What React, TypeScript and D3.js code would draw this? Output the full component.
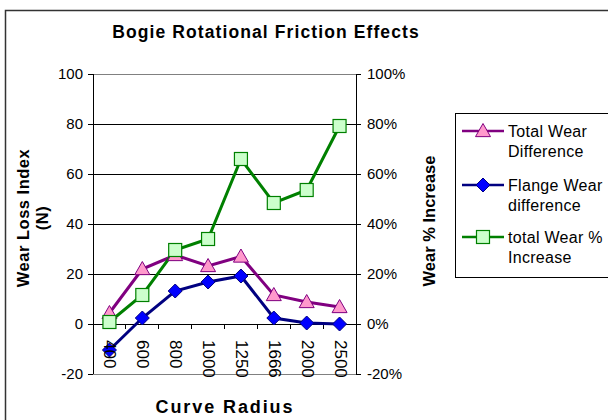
import React from "react";
import * as d3 from "d3";

const categories = ["400", "600", "800", "1000", "1250", "1666", "2000", "2500"];
const totalWearDiff = [4.4, 22, 27.6, 23.2, 27, 11.6, 8.8, 6.8];
const flangeWearDiff = [-10.4, 2.4, 13.2, 16.8, 19.2, 2.4, 0.4, 0];
const totalWearPct = [0.8, 11.6, 29.6, 34, 66, 48.4, 53.6, 79.2];
const leftTicks = [-20, 0, 20, 40, 60, 80, 100];
const rightTicks = [-20, 0, 20, 40, 60, 80, 100];

const FONT = "'Liberation Sans', Arial, sans-serif";

export default function App() {
  const W = 608, H = 420;
  const L = 93, R = 356, T = 74, B = 374;
  const x = d3.scaleBand<string>().domain(categories).range([L, R]);
  const y = d3.scaleLinear().domain([-20, 100]).range([B, T]);
  const yr = d3.scaleLinear().domain([-20, 100]).range([B, T]);
  const cx = (c: string) => (x(c) as number) + x.bandwidth() / 2;
  const line = d3.line<[number, number]>().x((d) => d[0]).y((d) => d[1]);

  const ptsTotal = categories.map((c, i) => [cx(c), y(totalWearDiff[i])] as [number, number]);
  const ptsFlange = categories.map((c, i) => [cx(c), y(flangeWearDiff[i])] as [number, number]);
  const ptsPct = categories.map((c, i) => [cx(c), yr(totalWearPct[i])] as [number, number]);

  const tri = (px: number, py: number, k: number) => {
    const s = 7.5;
    return <path key={k} d={`M${px},${py - s} L${px + s},${py + s * 0.75} L${px - s},${py + s * 0.75} Z`} fill="#FF99CC" stroke="#800080" strokeWidth={1} />;
  };
  const dia = (px: number, py: number, k: number) => {
    const s = 7;
    return <path key={k} d={`M${px},${py - s} L${px + s},${py} L${px},${py + s} L${px - s},${py} Z`} fill="#0000FF" stroke="#000080" strokeWidth={1} />;
  };
  const sq = (px: number, py: number, k: number) => {
    const s = 6.5;
    return <rect key={k} x={px - s} y={py - s} width={2 * s} height={2 * s} fill="#CCFFCC" stroke="#008000" strokeWidth={1.2} />;
  };

  const boundaries = d3.range(categories.length + 1).map((i) => L + i * x.step());

  const legendItems = [
    { lines: ["Total Wear", "Difference"], color: "#800080", marker: tri, y: 131 },
    { lines: ["Flange Wear", "difference"], color: "#000080", marker: dia, y: 185 },
    { lines: ["total Wear %", "Increase"], color: "#008000", marker: sq, y: 237 },
  ];

  return (
    <svg width={W} height={H} style={{ position: "absolute", left: 0, top: 0 }} fontFamily={FONT}>
      <rect x={0} y={0} width={W} height={H} fill="white" />
      <rect x={5.5} y={10.5} width={W} height={H} fill="white" stroke="#333" strokeWidth={1.5} />
      <text x={266} y={38} textAnchor="middle" fontSize={17.5} fontWeight="bold" letterSpacing={1.1}>
        Bogie Rotational Friction Effects
      </text>

      <g shapeRendering="crispEdges">
        {/* plot border */}
        <rect x={L} y={T} width={R - L} height={B - T} fill="white" stroke="#808080" strokeWidth={1} />
        {/* gridlines */}
        {leftTicks.filter((t) => t > -20 && t < 100).map((t) => (
          <line key={t} x1={L} x2={R} y1={y(t)} y2={y(t)} stroke="#000" strokeWidth={1} />
        ))}
        {/* axes */}
        <line x1={L} x2={L} y1={T} y2={B} stroke="#000" />
        <line x1={R} x2={R} y1={T} y2={B} stroke="#000" />
        {leftTicks.map((t) => (
          <line key={"lt" + t} x1={L - 5} x2={L} y1={y(t)} y2={y(t)} stroke="#000" />
        ))}
        {rightTicks.map((t) => (
          <line key={"rt" + t} x1={R} x2={R + 5} y1={yr(t)} y2={yr(t)} stroke="#000" />
        ))}
        {boundaries.map((bx, i) => (
          <line key={"xt" + i} x1={bx} x2={bx} y1={y(0)} y2={y(0) + 5} stroke="#000" />
        ))}
      </g>
      {leftTicks.map((t) => (
        <text key={"l" + t} x={83} y={y(t)} dy="0.36em" textAnchor="end" fontSize={15}>{t}</text>
      ))}
      {rightTicks.map((t) => (
        <text key={"r" + t} x={367} y={yr(t)} dy="0.36em" textAnchor="start" fontSize={15}>{t + "%"}</text>
      ))}

      {/* series */}
      <path d={line(ptsTotal) || ""} fill="none" stroke="#800080" strokeWidth={3} />
      <path d={line(ptsPct) || ""} fill="none" stroke="#008000" strokeWidth={3} />
      <path d={line(ptsFlange) || ""} fill="none" stroke="#000080" strokeWidth={3} />
      {ptsTotal.map((p, i) => tri(p[0], p[1], i))}
      {ptsPct.map((p, i) => sq(p[0], p[1], i))}
      {ptsFlange.map((p, i) => dia(p[0], p[1], i))}

      {/* x labels */}
      {categories.map((c) => (
        <text key={"xl" + c} transform={`translate(${cx(c) - 5},${340}) rotate(90)`} fontSize={17} textAnchor="start">
          {c}
        </text>
      ))}

      {/* axis titles */}
      <text transform={`translate(29,218) rotate(-90)`} textAnchor="middle" fontSize={16.5} fontWeight="bold" letterSpacing={0.5}>
        Wear Loss Index
      </text>
      <text transform={`translate(48,218) rotate(-90)`} textAnchor="middle" fontSize={16.5} fontWeight="bold" letterSpacing={0.5}>
        (N)
      </text>
      <text transform={`translate(435,221) rotate(-90)`} textAnchor="middle" fontSize={16.5} fontWeight="bold">
        Wear % Increase
      </text>
      <text x={225} y={413} textAnchor="middle" fontSize={18} fontWeight="bold" letterSpacing={1.9}>
        Curve Radius
      </text>

      {/* legend */}
      <rect x={455.5} y={113.5} width={170} height={164} fill="white" stroke="#000" strokeWidth={1} />
      {legendItems.map((it, i) => (
        <g key={"lg" + i}>
          <line x1={462} x2={504} y1={it.y} y2={it.y} stroke={it.color} strokeWidth={2.5} />
          {it.marker(483, it.y, 100 + i)}
          {it.lines.map((ln, j) => (
            <text key={j} x={508} y={it.y + 6 + j * 20} fontSize={16} letterSpacing={0.3}>{ln}</text>
          ))}
        </g>
      ))}
    </svg>
  );
}
